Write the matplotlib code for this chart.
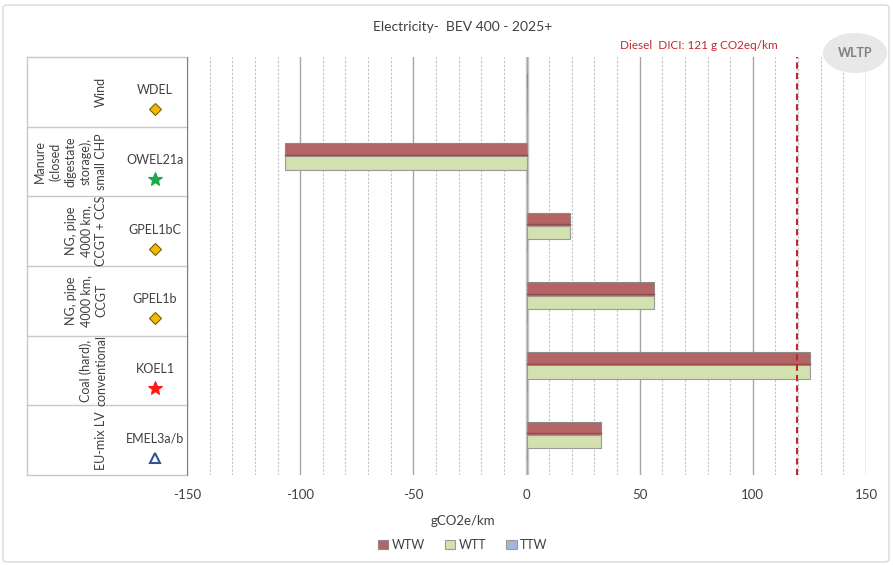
import numpy as np
import matplotlib.pyplot as plt
import matplotlib.transforms as mtransforms
from matplotlib.patches import FancyBboxPatch, Ellipse

plt.rcParams['font.family'] = ['Lato', 'DejaVu Sans']
plt.rcParams['axes.unicode_minus'] = False

# data, bottom row first
categories = ['EU-mix LV', 'Coal (hard),\nconventional', 'NG, pipe\n4000 km,\nCCGT',
              'NG, pipe\n4000 km,\nCCGT + CCS', 'Manure\n(closed\ndigestate\nstorage),\nsmall CHP', 'Wind']
codes = ['EMEL3a/b', 'KOEL1', 'GPEL1b', 'GPEL1bC', 'OWEL21a', 'WDEL']
wtw = [33.1, 125.4, 56.5, 19.0, -106.9, 0.0]
wtt = [33.1, 125.2, 56.5, 19.0, -106.9, 0.0]
ttw = [0.0, 0.0, 0.0, 0.0, 0.0, 0.0]
diesel_ref = 119.3
diesel_label = 'Diesel  DICI: 121 g CO2eq/km'

markers = ['^', '*', 'D', 'D', '*', 'D']
mfaces = ['none', '#ff1a1a', '#f5b800', '#f5b800', '#1aa84a', '#f5b800']
medges = ['#2f5597', '#ff1a1a', '#7f6000', '#7f6000', '#1aa84a', '#7f6000']
msizes = [7, 10, 6, 6, 10, 6]

fig = plt.figure(figsize=(8.93, 5.65), dpi=100)
ax = fig.add_axes([187/893, 1-475/565, 679/893, 418/565])

y = np.arange(len(codes))
h = 0.19
ax.barh(y + 0.17, wtw, height=h, color='#b46464', edgecolor='#8a8a8a', linewidth=0.8, label='WTW', zorder=3)
ax.barh(y + 0.17 - h, wtt, height=h, color='#d3e0b0', edgecolor='#9a9a9a', linewidth=0.8, label='WTT', zorder=3)
ax.barh(y + 0.17 - 2*h, ttw, height=h, color='#9fb8d8', edgecolor='#9a9a9a', linewidth=0.8, label='TTW', zorder=3)
# darker stripe at bottom of WTW bars
for yi, v in zip(y, wtw):
    if v != 0:
        ax.plot([0, v], [yi + 0.17 - h/2 + 0.025]*2, color='#9a4848', lw=1.0, zorder=4)

ax.set_xlim(-150, 150)
ax.set_ylim(-0.5, 5.5)
ax.set_xticks(np.arange(-150, 151, 50))
ax.set_xticks(np.arange(-150, 151, 10), minor=True)
ax.grid(axis='x', which='minor', color='#c4c4c4', ls=(0, (2, 1.5)), lw=0.8, zorder=0)
ax.grid(axis='x', which='major', color='#a6a6a6', ls='-', lw=1.0, zorder=0)
ax.axvline(0, color='#d0d0d0', lw=2.5, zorder=1)
ax.axvline(diesel_ref, color='#c0282d', ls=(0, (3, 2)), lw=1.5, zorder=5)
ax.text(diesel_ref - 8.5, 5.58, diesel_label, color='#c0282d', fontsize=8.5, ha='right', va='bottom')

ax.set_yticks([])
ax.tick_params(axis='x', which='both', length=0, labelsize=9.5, colors='#404040', pad=10)
for s in ['top', 'right', 'bottom']:
    ax.spines[s].set_visible(False)
ax.spines['left'].set_color('#808080')

# left-hand labels
tr = mtransforms.blended_transform_factory(fig.transFigure, ax.transData)
for i in range(len(codes)):
    ax.text(107/893, i, categories[i], transform=tr, rotation=90, ha='right', va='center',
            multialignment='center', fontsize=9, color='#404040', linespacing=1.3)
    ax.text(155/893, i + 0.02, codes[i], transform=tr, ha='center', va='center', fontsize=9, color='#404040')
    ax.plot([155/893], [i - 0.25], transform=tr, marker=markers[i], ms=msizes[i],
            mfc=mfaces[i], mec=medges[i], mew=1.5 if markers[i] == '^' else 0.8, clip_on=False)
for b in np.arange(-0.5, 6, 1):
    ax.plot([27/893, 187/893], [b, b], transform=tr, color='#c8c8c8', lw=1, clip_on=False)
ax.plot([27/893, 27/893], [-0.5, 5.5], transform=tr, color='#c8c8c8', lw=1, clip_on=False)

# title, axis label, WLTP bubble, frame
fig.text(463/893, 1-27/565, 'Electricity-  BEV 400 - 2025+', ha='center', va='center', fontsize=10, color='#404040')
fig.text(463/893, 1-521/565, 'gCO2e/km', ha='center', va='center', fontsize=9.5, color='#404040')
fig.patches.append(Ellipse((855/893, 1-53/565), 64/893, 40/565, transform=fig.transFigure,
                           facecolor='#e8e8e8', edgecolor='none'))
fig.text(855/893, 1-53/565, 'WLTP', ha='center', va='center', fontsize=9, color='#7f7f7f', weight='bold')
fig.patches.append(FancyBboxPatch((3/893, 3/565), 886/893, 557/565, boxstyle='round,pad=0,rounding_size=0.005',
                                  transform=fig.transFigure, facecolor='none', edgecolor='#d9d9d9', lw=1))

fig.legend(loc='center', bbox_to_anchor=(463/893, 1-545/565), ncol=3, frameon=False, fontsize=9,
           handlelength=0.8, handleheight=0.8, handletextpad=0.3, columnspacing=1.6, labelcolor='#404040')

fig.savefig('out.png', dpi=100)
